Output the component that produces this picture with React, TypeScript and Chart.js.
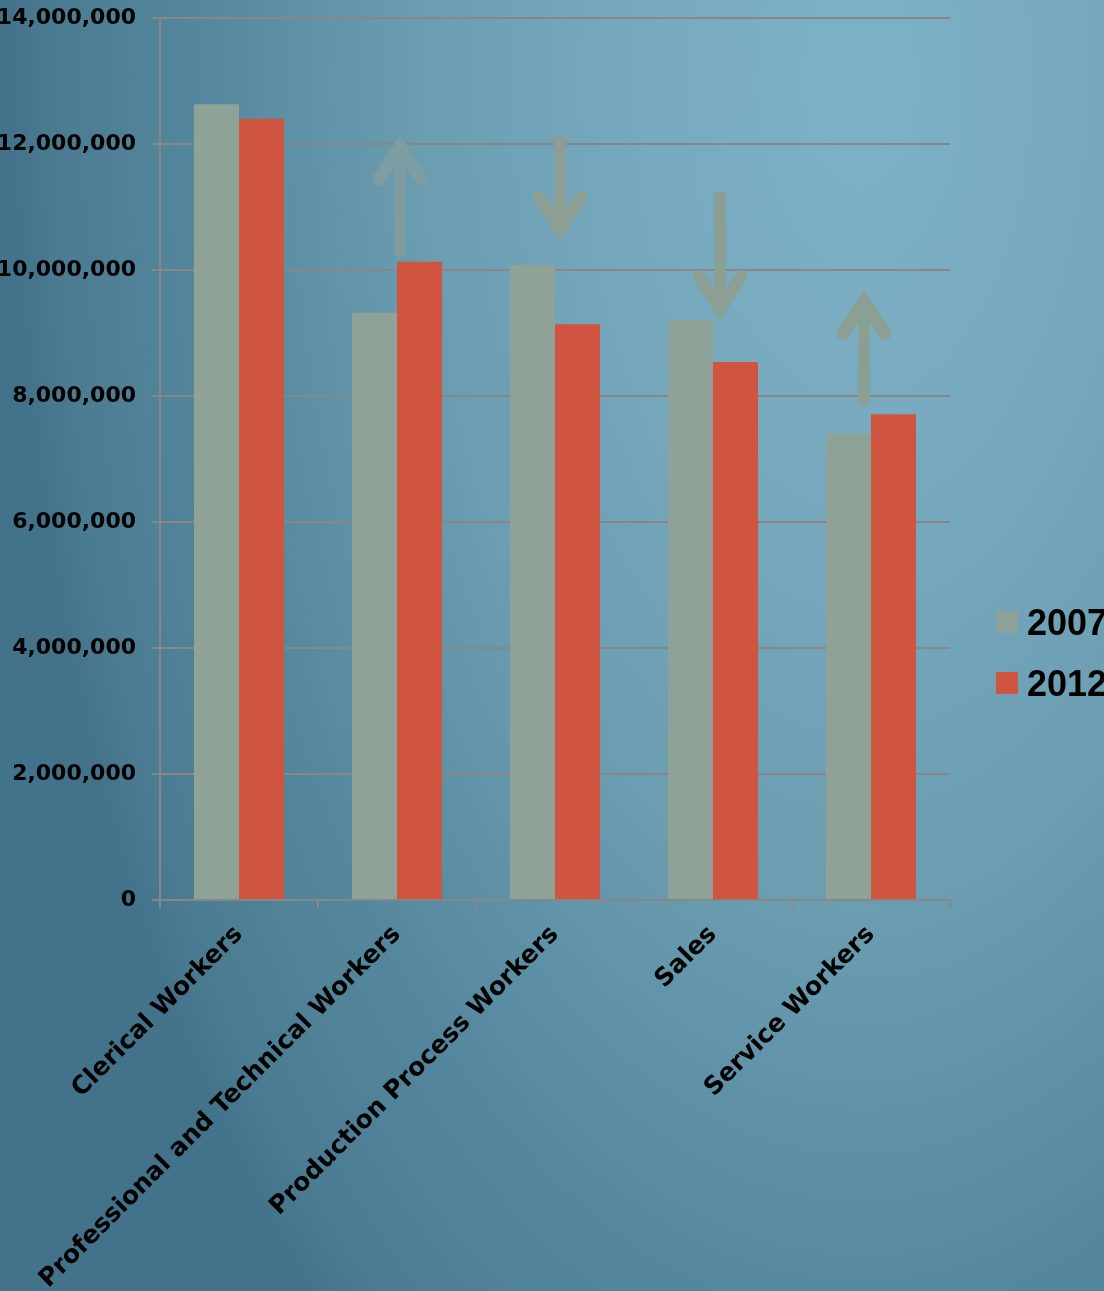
import { useEffect, useRef } from "react";
import { Chart, registerables } from "chart.js";

Chart.register(...registerables);

const categories = [
  "Clerical Workers",
  "Professional and Technical Workers",
  "Production Process Workers",
  "Sales",
  "Service Workers",
];
const seriesNames = ["2007", "2012"];
const values2007 = [12630000, 9320000, 10080000, 9210000, 7400000];
const values2012 = [12400000, 10130000, 9140000, 8540000, 7710000];
const yTicks = [0, 2000000, 4000000, 6000000, 8000000, 10000000, 12000000, 14000000];

// trend arrows: category index, start value, end value
const arrowCategories = [1, 2, 3, 4];
const arrowFrom = [10290000, 12140000, 11250000, 7920000];
const arrowTo = [12140000, 10460000, 9200000, 9690000];
const arrowColors = ["#7f9ca1", "#8c9f96", "#8c9f95", "#8c9f95"];
const arrowShift = [3, 5, 7, -7];

const seriesColors = ["#8fa297", "#cf5540"];
const FONT = "'DejaVu Sans', sans-serif";
const LEGEND_FONT = "'Liberation Sans', Arial, sans-serif";

const arrowPlugin = {
  id: "trendArrows",
  afterDatasetsDraw(chart: any) {
    const { ctx, scales } = chart;
    const x = scales.x;
    const y = scales.y;
    ctx.save();
    arrowCategories.forEach((ci, i) => {
      const px = x.getPixelForValue(ci) + arrowShift[i];
      const y0 = y.getPixelForValue(arrowFrom[i]);
      const y1 = y.getPixelForValue(arrowTo[i]);
      const dir = y1 < y0 ? -1 : 1;
      const jy = y1 - dir * 12;
      ctx.strokeStyle = arrowColors[i];
      ctx.lineWidth = 12;
      ctx.lineCap = dir < 0 ? "round" : "butt";
      ctx.beginPath();
      ctx.moveTo(px, y0);
      ctx.lineTo(px, jy);
      ctx.stroke();
      ctx.lineWidth = 13;
      ctx.lineCap = "round";
      ctx.lineJoin = "miter";
      ctx.miterLimit = 10;
      ctx.beginPath();
      ctx.moveTo(px - 21, jy - dir * 32);
      ctx.lineTo(px, jy);
      ctx.lineTo(px + 21, jy - dir * 32);
      ctx.stroke();
    });
    ctx.restore();
  },
};

const legendPlugin = {
  id: "sideLegend",
  afterDraw(chart: any) {
    const { ctx, chartArea } = chart;
    ctx.save();
    const left = chartArea.right + 46;
    const tops = [chartArea.bottom - 289, chartArea.bottom - 228];
    seriesNames.forEach((name, i) => {
      ctx.fillStyle = seriesColors[i];
      ctx.fillRect(left, tops[i], 22, 22);
      ctx.fillStyle = "#000000";
      ctx.font = `bold 36px ${LEGEND_FONT}`;
      ctx.textAlign = "left";
      ctx.textBaseline = "alphabetic";
      ctx.fillText(name, left + 31, tops[i] + 24);
    });
    ctx.restore();
  },
};

export default function App() {
  const canvasRef = useRef<HTMLCanvasElement | null>(null);

  useEffect(() => {
    const canvas = canvasRef.current;
    if (!canvas) return;
    const gridColor = "#878787";
    const chart = new Chart(canvas, {
      type: "bar",
      data: {
        labels: categories,
        datasets: [
          {
            label: seriesNames[0],
            data: values2007,
            backgroundColor: seriesColors[0],
            categoryPercentage: 0.57,
            barPercentage: 1,
          },
          {
            label: seriesNames[1],
            data: values2012,
            backgroundColor: seriesColors[1],
            categoryPercentage: 0.57,
            barPercentage: 1,
          },
        ],
      },
      options: {
        responsive: false,
        animation: false,
        devicePixelRatio: 1,
        layout: { padding: { top: 18, right: 154, left: 0, bottom: 0 } },
        plugins: {
          legend: { display: false },
          tooltip: { enabled: false },
        },
        scales: {
          x: {
            offset: true,
            grid: {
              display: true,
              drawOnChartArea: false,
              drawTicks: true,
              tickLength: 8,
              color: gridColor,
              lineWidth: 2,
              offset: true,
            },
            border: { display: true, color: gridColor, width: 2 },
            ticks: {
              autoSkip: false,
              maxRotation: 45,
              minRotation: 45,
              padding: 12,
              color: "#000000",
              font: { family: FONT, size: 25, weight: "bold" },
            },
            afterFit(scale: any) {
              scale.height = 391;
            },
          },
          y: {
            min: 0,
            max: 14000000,
            afterBuildTicks(scale: any) {
              scale.ticks = yTicks.map((v) => ({ value: v }));
            },
            grid: {
              color: gridColor,
              lineWidth: 2,
              tickLength: 8,
              drawTicks: true,
            },
            border: { display: true, color: gridColor, width: 2 },
            ticks: {
              padding: 16,
              color: "#000000",
              font: { family: FONT, size: 22, weight: "bold" },
              callback: (v: any) => Number(v).toLocaleString("en-US"),
            },
            afterFit(scale: any) {
              scale.width = 160;
              scale.paddingTop = 0;
              scale.paddingBottom = 0;
            },
          },
        },
      },
      plugins: [arrowPlugin, legendPlugin],
    });
    return () => chart.destroy();
  }, []);

  return (
    <div
      style={{
        position: "fixed",
        left: 0,
        top: 0,
        width: 1104,
        height: 1291,
        overflow: "hidden",
        background:
          "radial-gradient(850px 1600px at 860px 80px, #7db1c5 0%, #77aabf 25%, #6b9db1 52%, #54879d 78%, #4b7b91 95%, #43738a 100%)",
      }}
    >
      <canvas
        ref={canvasRef}
        width={1104}
        height={1291}
        style={{ position: "absolute", left: 0, top: 0, width: 1104, height: 1291 }}
      />
    </div>
  );
}
